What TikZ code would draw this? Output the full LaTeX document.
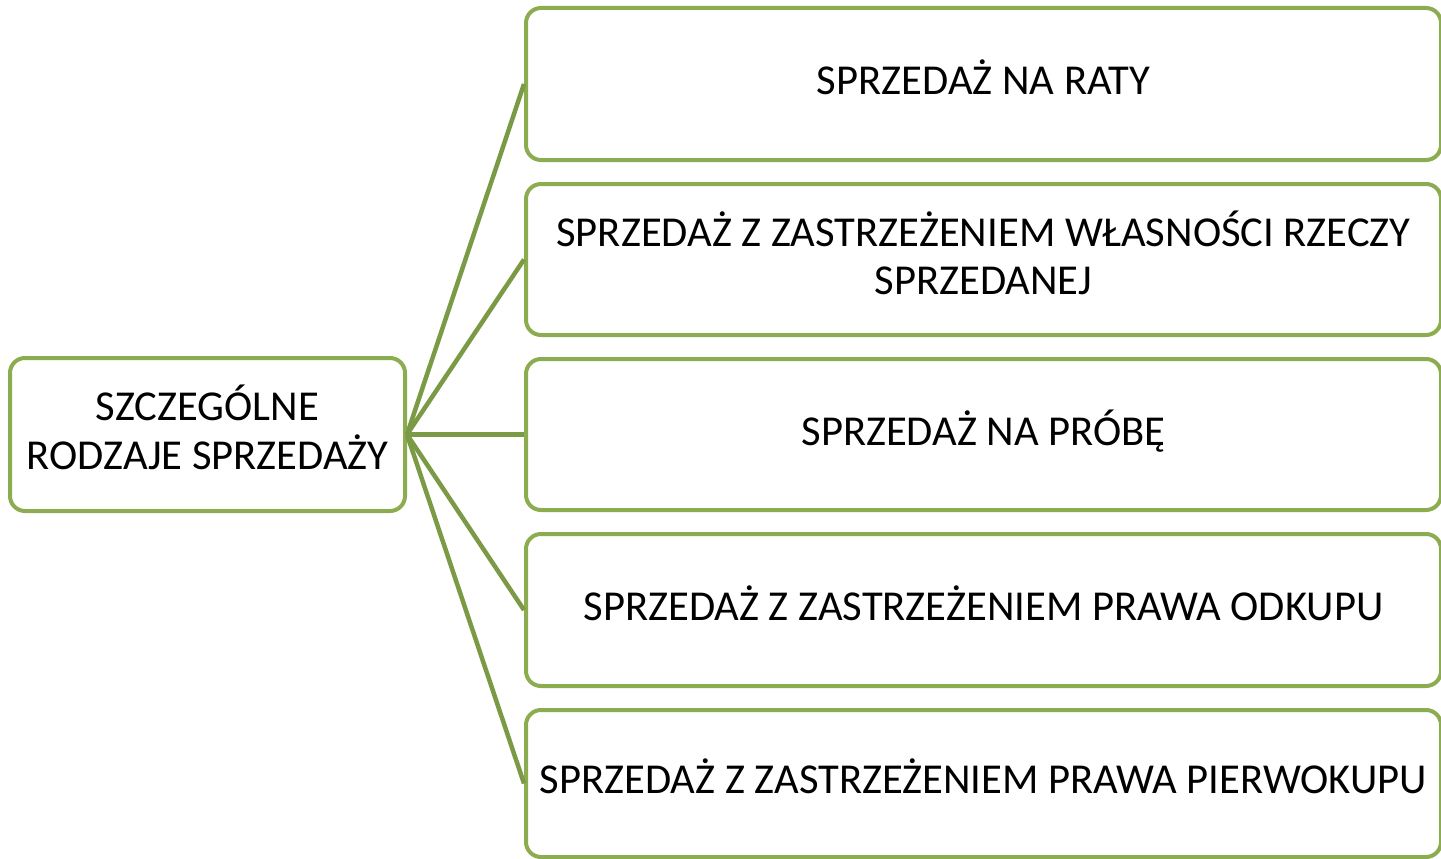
\documentclass[tikz,border=0pt]{standalone}
\usepackage{fontspec}
\setmainfont{Carlito}
\definecolor{boxgreen}{HTML}{8CAC50}
\definecolor{linegreen}{HTML}{7B9A45}
\newcommand\btxt[1]{\begin{tabular}{@{}c@{}}#1\end{tabular}}
\begin{document}
\begin{tikzpicture}[x=1pt,y=-1pt,
  box/.style={draw=boxgreen, line width=4pt, rounded corners=15pt, fill=white,
    font=\fontsize{42.6}{48}\selectfont, inner sep=0pt},
  conn/.style={draw=linegreen, line width=4.5pt}]
\useasboundingbox (0,0) rectangle (1441,859);
\node[box, minimum width=395pt, minimum height=153pt] (root) at (207.5,434.5) {\btxt{SZCZEGÓLNE\\RODZAJE SPRZEDAŻY}};
\node[box, minimum width=915pt, minimum height=152pt] (a) at (983.5,84) {\btxt{SPRZEDAŻ NA RATY}};
\node[box, minimum width=915pt, minimum height=151pt] (b) at (983.5,259.5) {\btxt{SPRZEDAŻ Z ZASTRZEŻENIEM WŁASNOŚCI RZECZY\\SPRZEDANEJ}};
\node[box, minimum width=915pt, minimum height=151pt] (c) at (983.5,434.5) {\btxt{SPRZEDAŻ NA PRÓBĘ}};
\node[box, minimum width=915pt, minimum height=152pt] (d) at (983.5,610) {\btxt{SPRZEDAŻ Z ZASTRZEŻENIEM PRAWA ODKUPU}};
\node[box, minimum width=915pt, minimum height=147pt] (e) at (983.5,783.5) {\btxt{SPRZEDAŻ Z ZASTRZEŻENIEM PRAWA PIERWOKUPU}};
\foreach \t in {a,b,c,d,e}{\draw[conn] (root.east) -- (\t.west);}
\end{tikzpicture}
\end{document}
